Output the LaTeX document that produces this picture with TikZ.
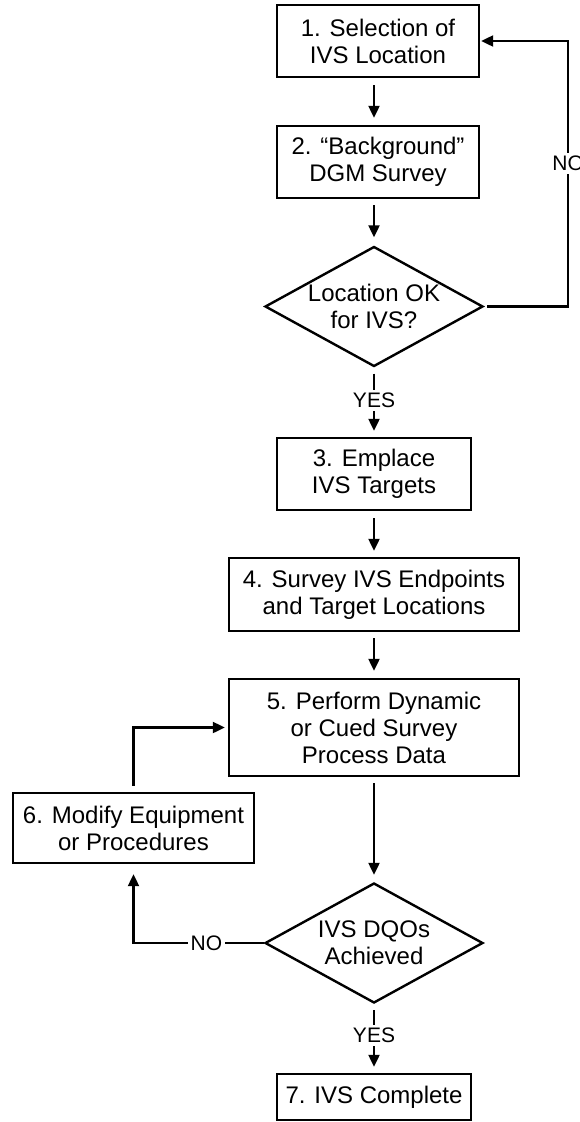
\documentclass[tikz,border=0pt]{standalone}
\usepackage{fontspec}
\setmainfont{Liberation Sans}
\usetikzlibrary{arrows.meta,shapes.geometric,calc}
\begin{document}
\begin{tikzpicture}[x=1pt,y=-1pt,
  line width=2.2pt,
  every node/.style={font=\fontsize{24}{27}\selectfont, align=center},
  procbox/.style={draw, rectangle, inner sep=0pt, line width=2.4pt},
  decision/.style={draw, diamond, aspect=1.8, inner sep=0pt, line width=2.4pt, minimum width=218pt, minimum height=120pt},
  flow/.style={-{Triangle[length=12pt,width=11pt]}},
  lbl/.style={font=\fontsize{21}{24}\selectfont, fill=white, inner sep=3pt}]
\useasboundingbox (0,0) rectangle (579,1122);

\node[procbox, minimum width=202pt, minimum height=72pt] (b1) at (378,41) {1. Selection of\\IVS Location};
\node[procbox, minimum width=202pt, minimum height=72pt] (b2) at (378,162) {2. “Background”\\DGM Survey};
\node[decision] (d1) at (374,306.5) {Location OK\\for IVS?};
\node[procbox, minimum width=194pt, minimum height=72pt] (b3) at (374,474) {3. Emplace\\IVS Targets};
\node[procbox, minimum width=290pt, minimum height=73pt] (b4) at (374,594.5) {4. Survey IVS Endpoints\\and Target Locations};
\node[procbox, minimum width=290pt, minimum height=97pt] (b5) at (374,727.5) {5. Perform Dynamic\\or Cued Survey\\Process Data};
\node[procbox, minimum width=241pt, minimum height=70pt] (b6) at (133.5,828) {6. Modify Equipment\\or Procedures};
\node[decision] (d2) at (374,943) {IVS DQOs\\Achieved};
\node[procbox, minimum width=194pt, minimum height=46pt] (b7) at (374,1097) {7. IVS Complete};

\draw[flow, shorten <=7pt, shorten >=7pt] (b1.south -| d1) -- (b2.north -| d1);
\draw[flow, shorten <=6pt, shorten >=8pt] (b2.south -| d1) -- (d1.north);
\draw[flow, shorten <=6pt, shorten >=6pt] (d1.south) -- node[lbl, pos=0.47] {YES} (b3.north);
\draw[flow, shorten <=7pt, shorten >=6pt] (b3.south) -- (b4.north);
\draw[flow, shorten <=6pt, shorten >=7pt] (b4.south) -- (b5.north);
\draw[flow, shorten <=6pt, shorten >=7pt] (b5.south) -- (d2.north);
\draw[flow, shorten <=6pt, shorten >=6pt] (d2.south) -- node[lbl, pos=0.46] {YES} (b7.north);

\coordinate (c1) at ($(d1.east)+(84,0)$);
\draw[flow, shorten <=3pt, shorten >=1pt] (d1.east) -- (c1) -- node[lbl, pos=0.54] {NO} (c1 |- b1.east) -- (b1.east);

\coordinate (c2) at (b6.south |- d2.west);
\draw[flow, shorten >=10pt] (d2.west) -- node[lbl, pos=0.44] {NO} (c2) -- (b6.south);

\draw[flow, shorten <=6pt, shorten >=3pt] (b6.north) |- (b5.west);
\end{tikzpicture}
\end{document}
